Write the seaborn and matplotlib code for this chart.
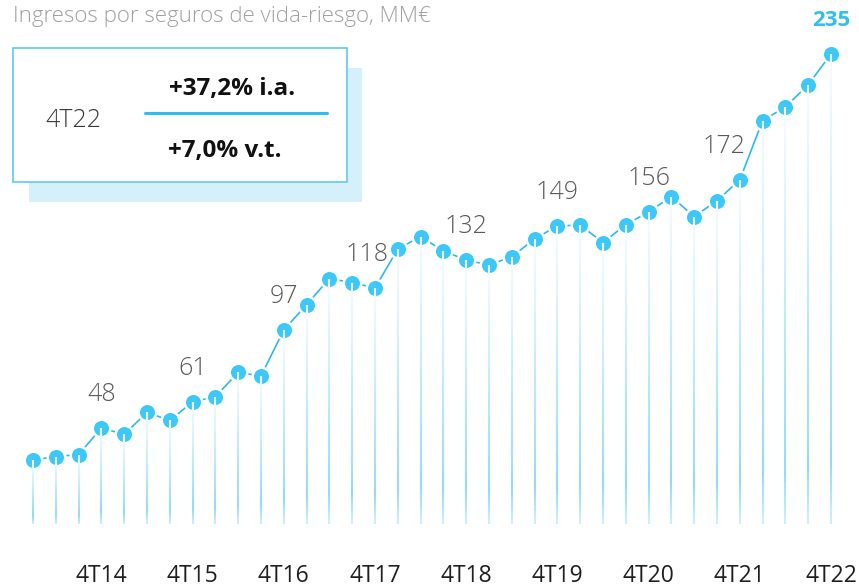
import numpy as np
import pandas as pd
import matplotlib
matplotlib.use("Agg")
import matplotlib.pyplot as plt
from matplotlib.collections import LineCollection
from matplotlib.colors import LinearSegmentedColormap
from matplotlib.patches import Rectangle
from matplotlib.lines import Line2D
import seaborn as sns

# Quarterly life-risk insurance income, MM€
quarters = ["1T14", "2T14", "3T14", "4T14", "1T15", "2T15", "3T15", "4T15",
            "1T16", "2T16", "3T16", "4T16", "1T17", "2T17", "3T17", "4T17",
            "1T18", "2T18", "3T18", "4T18", "1T19", "2T19", "3T19", "4T19",
            "1T20", "2T20", "3T20", "4T20", "1T21", "2T21", "3T21", "4T21",
            "1T22", "2T22", "3T22", "4T22"]
income = [32.0, 33.7, 34.7, 48.0, 44.8, 55.8, 51.8, 61.0,
          63.7, 75.8, 74.0, 97.0, 109.7, 122.7, 120.7, 118.0,
          137.5, 143.7, 136.5, 132.0, 129.5, 133.6, 142.6, 149.0,
          149.5, 140.7, 149.7, 156.0, 163.7, 153.7, 161.7, 172.0,
          201.7, 208.5, 219.6, 235.0]
tick_labels = ["4T14", "4T15", "4T16", "4T17", "4T18", "4T19", "4T20", "4T21", "4T22"]
value_labels = ["4T14", "4T15", "4T16", "4T17", "4T18", "4T19", "4T20", "4T21"]
latest = "4T22"

title = "Ingresos por seguros de vida-riesgo, MM€"
box_period = "4T22"
box_yoy = "+37,2% i.a."
box_qoq = "+7,0% v.t."

W, H = 859, 588
sns.set_theme(style="white")
plt.rcParams["font.family"] = ["Open Sans", "DejaVu Sans"]

fig = plt.figure(figsize=(W / 100, H / 100), dpi=100)
ax = fig.add_axes([0, 0, 1, 1])
ax.set_xlim(-1.447, 36.228)
ax.set_ylim(-32, 262)
ax.axis("off")

df = pd.DataFrame({"pos": np.arange(len(quarters)), "quarter": quarters, "income": income})

# connecting line with haloed markers
sns.lineplot(data=df, x="pos", y="income", ax=ax, color="#2db9ee", linewidth=1.2,
             marker="o", markersize=12.6, markerfacecolor="#3cc8f8",
             markeredgecolor="white", markeredgewidth=1.8, zorder=3, legend=False)

# gradient drop lines from each point to zero
stem_cmap = LinearSegmentedColormap.from_list(
    "stem", [(0.0, "#cdeefb"), (0.12, "#97d9f5"), (0.55, "#c6ebfa"), (1.0, "#f4fbff")])
n_seg = 60
segs, cols = [], []
for i, v in enumerate(df["income"]):
    ys = np.linspace(0, v, n_seg + 1)
    for k in range(n_seg):
        segs.append([(i, ys[k]), (i, ys[k + 1])])
    cols.extend(stem_cmap(np.linspace(0, 1, n_seg)))
ax.add_collection(LineCollection(segs, colors=cols, linewidths=1.5,
                                 capstyle="butt", zorder=4))

# value labels (a couple nudged left to clear the line)
nudge = {"4T17": -8, "4T21": -16}
for q in value_labels:
    i = quarters.index(q)
    ax.annotate(f"{income[i]:.0f}", (i, income[i]),
                xytext=(nudge.get(q, 0) * 0.72, 19.5),
                textcoords="offset points", ha="center", va="baseline",
                fontsize=18, color="#595959", fontweight="light")
i = quarters.index(latest)
ax.annotate(f"{income[i]:.0f}", (i, income[i]), xytext=(0, 19.9),
            textcoords="offset points", ha="center", va="baseline",
            fontsize=16, color="#2ebff3", fontweight="bold")

# category labels
for q in tick_labels:
    ax.text(quarters.index(q), -28.8, q, ha="center", va="baseline",
            fontsize=16.5, color="#1f1f1f")


def fx(px):
    return px / W


def fy(py):
    return 1 - py / H


# title
fig.text(fx(13), fy(22), title, ha="left", va="baseline", fontsize=16,
         color="#a0a0a0", fontweight="light")

# growth box with offset shadow
fig.patches.append(Rectangle((fx(29), fy(202)), fx(362) - fx(29), fy(68) - fy(202),
                             transform=fig.transFigure, facecolor="#d5f0fb",
                             edgecolor="none", zorder=1))
fig.patches.append(Rectangle((fx(13), fy(182)), fx(347) - fx(13), fy(48) - fy(182),
                             transform=fig.transFigure, facecolor="white",
                             edgecolor="#5ccaf5", linewidth=1.2, zorder=2))
fig.lines.append(Line2D([fx(145), fx(327)], [fy(113), fy(113)],
                        transform=fig.transFigure, color="#2fbdf0", linewidth=2.2,
                        zorder=3))
fig.text(fx(73), fy(127), box_period, ha="center", va="baseline", fontsize=18,
         color="#3a3a3a", fontweight="light", zorder=4)
fig.text(fx(232), fy(95), box_yoy, ha="center", va="baseline", fontsize=17.5,
         color="#111111", fontweight="bold", zorder=4)
fig.text(fx(225), fy(157), box_qoq, ha="center", va="baseline", fontsize=17.5,
         color="#111111", fontweight="bold", zorder=4)

fig.savefig("out.png", dpi=100)
